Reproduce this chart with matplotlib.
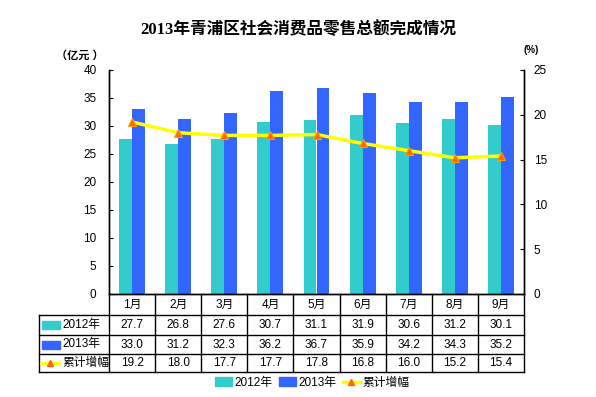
import numpy as np
import matplotlib
matplotlib.use('Agg')
import matplotlib.pyplot as plt
from matplotlib.lines import Line2D
from matplotlib.patches import Patch

plt.rcParams['font.family'] = ['Liberation Sans', 'Noto Sans CJK SC', 'DejaVu Sans']

# data
months = ['1月', '2月', '3月', '4月', '5月', '6月', '7月', '8月', '9月']
sales_2012 = [27.7, 26.8, 27.6, 30.7, 31.1, 31.9, 30.6, 31.2, 30.1]
sales_2013 = [33.0, 31.2, 32.3, 36.2, 36.7, 35.9, 34.2, 34.3, 35.2]
growth = [19.2, 18.0, 17.7, 17.7, 17.8, 16.8, 16.0, 15.2, 15.4]
row_names = ['2012年', '2013年', '累计增幅']

teal = '#33CCCC'
blue = '#3366FF'
yellow = '#FFFF00'
orange = '#FF6600'

W, H = 596, 397
fig = plt.figure(figsize=(W / 100, H / 100), dpi=100)

# plot area in pixels: x 109-524, y 70-294
x0, x1, y0, y1 = 109, 524, 70, 294
ax = fig.add_axes([x0 / W, 1 - y1 / H, (x1 - x0) / W, (y1 - y0) / H])
ax2 = ax.twinx()

x = np.arange(len(months))
bw = 0.28
ax.bar(x - bw / 2, sales_2012, bw, color=teal, zorder=2)
ax.bar(x + bw / 2, sales_2013, bw, color=blue, zorder=2)
ax.set_xlim(-0.5, len(months) - 0.5)
ax.set_ylim(0, 40)
ax.set_yticks(range(0, 41, 5))
ax.set_xticks([])
ax.tick_params(axis='y', direction='in', length=3, pad=9, labelsize=8.5)

ax2.plot(x, growth, color=yellow, lw=2.5, marker='^', ms=6,
         mfc=orange, mec='#FF9900', mew=0.8, zorder=3)
ax2.set_ylim(0, 25)
ax2.set_yticks(range(0, 26, 5))
ax2.tick_params(axis='y', direction='in', length=3, pad=7, labelsize=8.5)

for a in (ax, ax2):
    a.spines['top'].set_visible(False)
    for s in a.spines.values():
        s.set_linewidth(1)

# title and unit labels
fig.text(0.5, 1 - 30 / H, '2013年青浦区社会消费品零售总额完成情况',
         ha='center', va='center', fontsize=12, fontweight='bold',
         family=['Liberation Serif', 'Noto Sans CJK SC'])
fig.text(80 / W, 1 - 55 / H, '（亿元 ）', ha='center', va='center',
         fontsize=8, fontweight='bold')
fig.text(531 / W, 1 - 50 / H, '(%)', ha='center', va='center',
         fontsize=7, fontweight='bold')

# data table under the plot, drawn in figure pixel coords
def fx(px):
    return px / W

def fy(py):
    return 1 - py / H

col_w = (x1 - x0) / len(months)
row_y = [294, 315, 335, 354, 372]
left_x = 39
lc = dict(color='black', lw=1, transform=fig.transFigure)

for k in range(len(months) + 1):
    xx = x0 + k * col_w
    fig.add_artist(Line2D([fx(xx), fx(xx)], [fy(row_y[0]), fy(row_y[-1])], **lc))
fig.add_artist(Line2D([fx(left_x), fx(left_x)], [fy(row_y[1]), fy(row_y[-1])], **lc))
for yy in row_y[1:]:
    fig.add_artist(Line2D([fx(left_x), fx(x1)], [fy(yy), fy(yy)], **lc))

for i, m in enumerate(months):
    cx = x0 + (i + 0.5) * col_w
    fig.text(fx(cx), fy((row_y[0] + row_y[1]) / 2), m, ha='center', va='center', fontsize=8.5)
    for r, vals in enumerate([sales_2012, sales_2013, growth]):
        cy = (row_y[r + 1] + row_y[r + 2]) / 2
        fig.text(fx(cx), fy(cy), f'{vals[i]:.1f}', ha='center', va='center', fontsize=8.5)

# row labels with legend keys
for r, name in enumerate(row_names):
    cy = (row_y[r + 1] + row_y[r + 2]) / 2
    if r < 2:
        fig.add_artist(plt.Rectangle((fx(42), fy(cy + 4)), fx(18), 8 / H,
                                     color=[teal, blue][r], transform=fig.transFigure))
    else:
        fig.add_artist(Line2D([fx(41), fx(59)], [fy(cy), fy(cy)], color=yellow, lw=2,
                              transform=fig.transFigure))
        fig.add_artist(Line2D([fx(50)], [fy(cy)], marker='^', ms=5, mfc=orange, mec=orange,
                              lw=0, transform=fig.transFigure))
    fig.text(fx(62), fy(cy), name, ha='left', va='center', fontsize=8.5)

# legend at the bottom
handles = [Patch(color=teal, label='2012年'),
           Patch(color=blue, label='2013年'),
           Line2D([], [], color=yellow, lw=2.5, marker='^', ms=5,
                  mfc=orange, mec=orange, label='累计增幅')]
fig.legend(handles=handles, loc='center', bbox_to_anchor=(fx(312), fy(383)),
           ncol=3, frameon=False, fontsize=8.5, handlelength=1.4, handleheight=0.8,
           handletextpad=0.2, columnspacing=0.6, borderpad=0)

fig.savefig('out.png', dpi=100)
